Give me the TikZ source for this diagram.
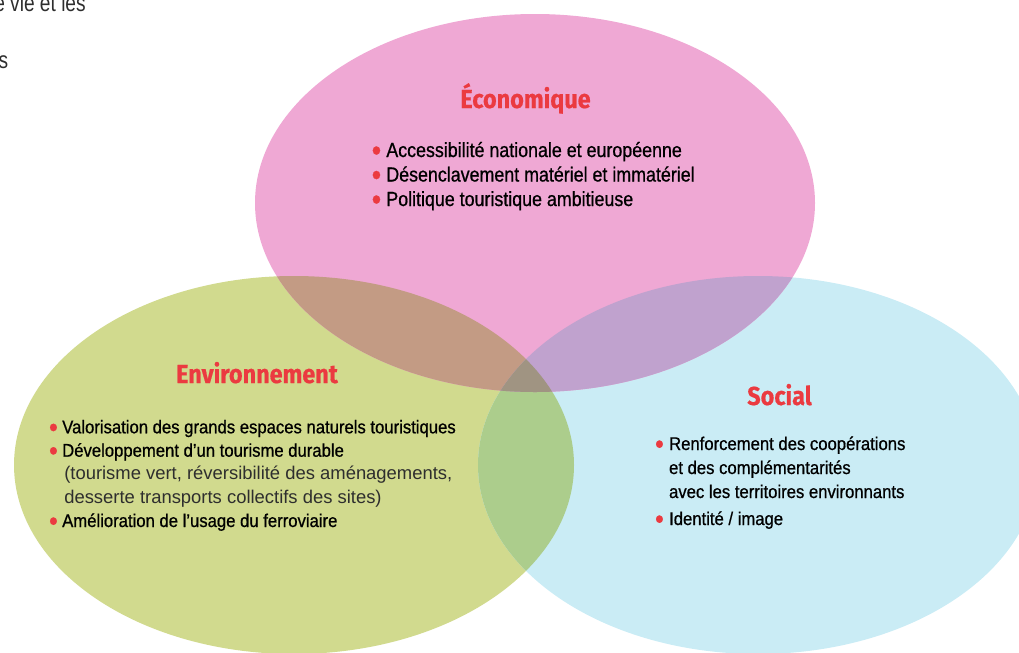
\documentclass[tikz,border=0pt]{standalone}
\usepackage{fontspec}
\setmainfont{Liberation Sans}
\newfontfamily\titlefont{Fira Sans}[FakeStretch=0.90, FakeBold=0.6]
\newfontfamily\ecofont{Liberation Sans}[FakeStretch=0.875, FakeBold=0.7]
\newfontfamily\bodyfont{Liberation Sans}[FakeStretch=0.905, FakeBold=0.7]
\newfontfamily\notefont{Liberation Sans}
\newfontfamily\edgefont{Liberation Sans}[FakeStretch=0.80]

\definecolor{ecofill}{HTML}{EFA8D4}
\definecolor{envfill}{HTML}{D1DA8E}
\definecolor{socfill}{HTML}{CAECF5}
\definecolor{ecoenv}{HTML}{C39B84}
\definecolor{ecosoc}{HTML}{C0A2CE}
\definecolor{envsoc}{HTML}{ACCD8C}
\definecolor{allthree}{HTML}{A09482}
\definecolor{titlered}{HTML}{EB3A40}
\definecolor{notegray}{HTML}{2E2E2E}

\newcommand{\puce}[1]{\makebox[#1][l]{\smash{\textcolor{titlered}{\raisebox{-0.18em}{\scalebox{1.5}{\textbullet}}}}}}

\begin{document}
\begin{tikzpicture}[x=0.025cm, y=-0.025cm,
    heading/.style = {font=\titlefont\bfseries\fontsize{18.5}{20}\selectfont, text=titlered, inner sep=0pt, anchor=base},
    ecoitem/.style = {font=\ecofont\fontsize{14.5}{17}\selectfont, inner sep=0pt, anchor=base west},
    bodyitem/.style = {font=\bodyfont\fontsize{13.1}{16}\selectfont, inner sep=0pt, anchor=base west},
    noteitem/.style = {font=\notefont\fontsize{13.1}{16}\selectfont, text=notegray, inner sep=0pt, anchor=base west},
    edgetext/.style = {font=\edgefont\fontsize{17}{20}\selectfont, text=notegray, inner sep=0pt, anchor=base east}]
    \useasboundingbox (0,0) rectangle (1019,652);
    \clip (0,0) rectangle (1019,652);
    \def\rx{280}\def\ry{189}

    \coordinate (eco) at (535,203);
    \coordinate (env) at (294,465);
    \coordinate (soc) at (758,465);

    % the three circles
    \fill[envfill] (env) ellipse [x radius=\rx, y radius=\ry];
    \fill[socfill] (soc) ellipse [x radius=\rx, y radius=\ry];
    \fill[ecofill] (eco) ellipse [x radius=\rx, y radius=\ry];

    % overlaps
    \begin{scope}
        \clip (env) ellipse [x radius=\rx, y radius=\ry];
        \fill[envsoc] (soc) ellipse [x radius=\rx, y radius=\ry];
    \end{scope}
    \begin{scope}
        \clip (eco) ellipse [x radius=\rx, y radius=\ry];
        \fill[ecoenv] (env) ellipse [x radius=\rx, y radius=\ry];
        \fill[ecosoc] (soc) ellipse [x radius=\rx, y radius=\ry];
        \clip (env) ellipse [x radius=\rx, y radius=\ry];
        \fill[allthree] (soc) ellipse [x radius=\rx, y radius=\ry];
    \end{scope}

    % page text cut at the edge
    \node[edgetext] (edge_1) at (86,11) {e vie et les};
    \node[edgetext] (edge_2) at (8.5,68) {s};

    % headings
    \node[heading] (t_eco) at (525.5,108) {Économique};
    \node[heading] (t_env) at (257,383) {Environnement};
    \node[heading] (t_soc) at (779.5,405) {Social};

    % economique
    \foreach \y/\txt [count=\i] in {157/{Accessibilité nationale et européenne},
                                    181.5/{Désenclavement matériel et immatériel},
                                    206/{Politique touristique ambitieuse}}
        \node[ecoitem] (eco_\i) at (371.5,\y) {\puce{10.35pt}\txt};

    % environnement
    \node[bodyitem] (env_1) at (48.8,433.3) {\puce{9.35pt}Valorisation des grands espaces naturels touristiques};
    \node[bodyitem] (env_2) at (48.8,456.7) {\puce{9.35pt}Développement d’un tourisme durable};
    \node[noteitem] (env_3) at (64,479.5) {(tourisme vert, réversibilité des aménagements,};
    \node[noteitem] (env_4) at (64,503) {desserte transports collectifs des sites)};
    \node[bodyitem] (env_5) at (48.8,527) {\puce{9.35pt}Amélioration de l’usage du ferroviaire};

    % social
    \node[bodyitem] (soc_1) at (654.8,450) {\puce{10pt}Renforcement des coopérations};
    \node[bodyitem] (soc_2) at (668.8,474) {et des complémentarités};
    \node[bodyitem] (soc_3) at (668.8,498) {avec les territoires environnants};
    \node[bodyitem] (soc_4) at (654.8,525) {\puce{10pt}Identité / image};
\end{tikzpicture}
\end{document}
